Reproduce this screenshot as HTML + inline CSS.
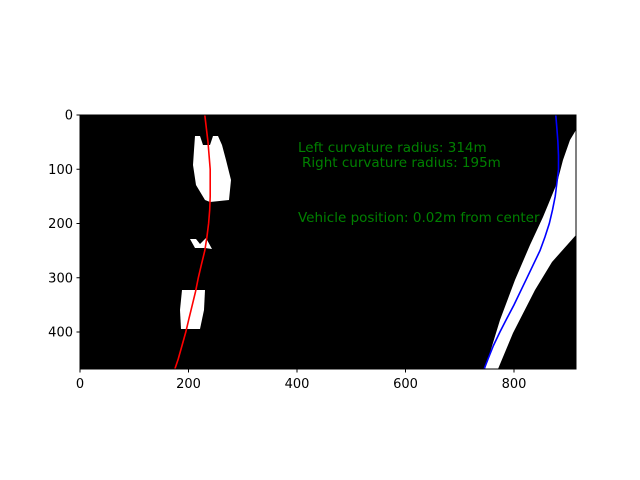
<!DOCTYPE html>
<html><head><meta charset="utf-8"><style>
body{margin:0;background:#fff;}
svg{display:block;font-family:"DejaVu Sans","Liberation Sans",sans-serif;}
</style></head><body>
<svg id="c" width="640" height="480">
<rect x="80" y="115" width="496" height="254" fill="#000"/>
<g fill="#fff">
<polygon points="195,136 200,136 203,145 210,145 213,136 218,136 222,145 226,160 231,180 229,200 210,202 205,200 196,185 193,165 194,150"/>
<polygon points="190,239 196,239 200,244 206,238 212,249 205,248 195,248"/>
<polygon points="182,290 205,290 204,310 200,329 181,329 180,310"/>
<polygon points="485,369 498,369 513,333 535,290 552,262 576,235 576,130 570,140 563,160 557,183 548,205 543,217 530,245 515,280 500,320"/>
</g>
<g fill="none" stroke-width="1.6">
<polyline id="lcurve" stroke="#f00"/>
<polyline id="rcurve" stroke="#00f"/>
</g>
<g fill="#008000" font-size="13.5">
<text x="298" y="152">Left curvature radius: 314m</text>
<text x="302" y="167">Right curvature radius: 195m</text>
<text x="298" y="222">Vehicle position: 0.02m from center</text>
</g>
<rect x="80" y="115" width="496" height="254" fill="none" stroke="#000" stroke-width="1"/>
<g id="ticks" font-size="13" fill="#000"></g>
</svg>
<script>
const xTicks=[0,200,400,600,800];
const yTicks=[0,100,200,300,400];
const curveY=[0,25,50,75,100,125,150,175,200,225,250,275,300,325,350,375,400,425,450,468];
const leftX=[230,233,236,238,240,240,240,239,237,234,230,224,218,213,207,201,195,188,181,175];
const rightX=[877,879,881,882,882,879,876,871,865,857,848,836,824,812,800,787,774,762,752,745];
const X0=80,Y0=115,S=0.5425;
const sx=v=>X0+v*S, sy=v=>Y0+v*S;
const ns="http://www.w3.org/2000/svg";
function pts(xs){return curveY.map((y,i)=>sx(xs[i]).toFixed(1)+","+sy(y).toFixed(1)).join(" ");}
document.getElementById('lcurve').setAttribute('points',pts(leftX));
document.getElementById('rcurve').setAttribute('points',pts(rightX));
const g=document.getElementById('ticks');
xTicks.forEach(v=>{
 const l=document.createElementNS(ns,'line');
 
 
 l.setAttribute('x1',sx(v));l.setAttribute('x2',sx(v));l.setAttribute('y1',369);l.setAttribute('y2',372.5);l.setAttribute('stroke','#000');
 g.appendChild(l);
 const t=document.createElementNS(ns,'text');
 
 
 t.setAttribute('x',sx(v));t.setAttribute('y',388);t.setAttribute('text-anchor','middle');t.textContent=v;
 g.appendChild(t);
});
yTicks.forEach(v=>{
 const l=document.createElementNS(ns,'line');
 
 
 l.setAttribute('x1',76.5);l.setAttribute('x2',80);l.setAttribute('y1',sy(v));l.setAttribute('y2',sy(v));l.setAttribute('stroke','#000');
 g.appendChild(l);
 const t=document.createElementNS(ns,'text');
 
 
 t.setAttribute('x',73);t.setAttribute('y',sy(v)+4.5);t.setAttribute('text-anchor','end');t.textContent=v;
 g.appendChild(t);
});
</script>
</body></html>
